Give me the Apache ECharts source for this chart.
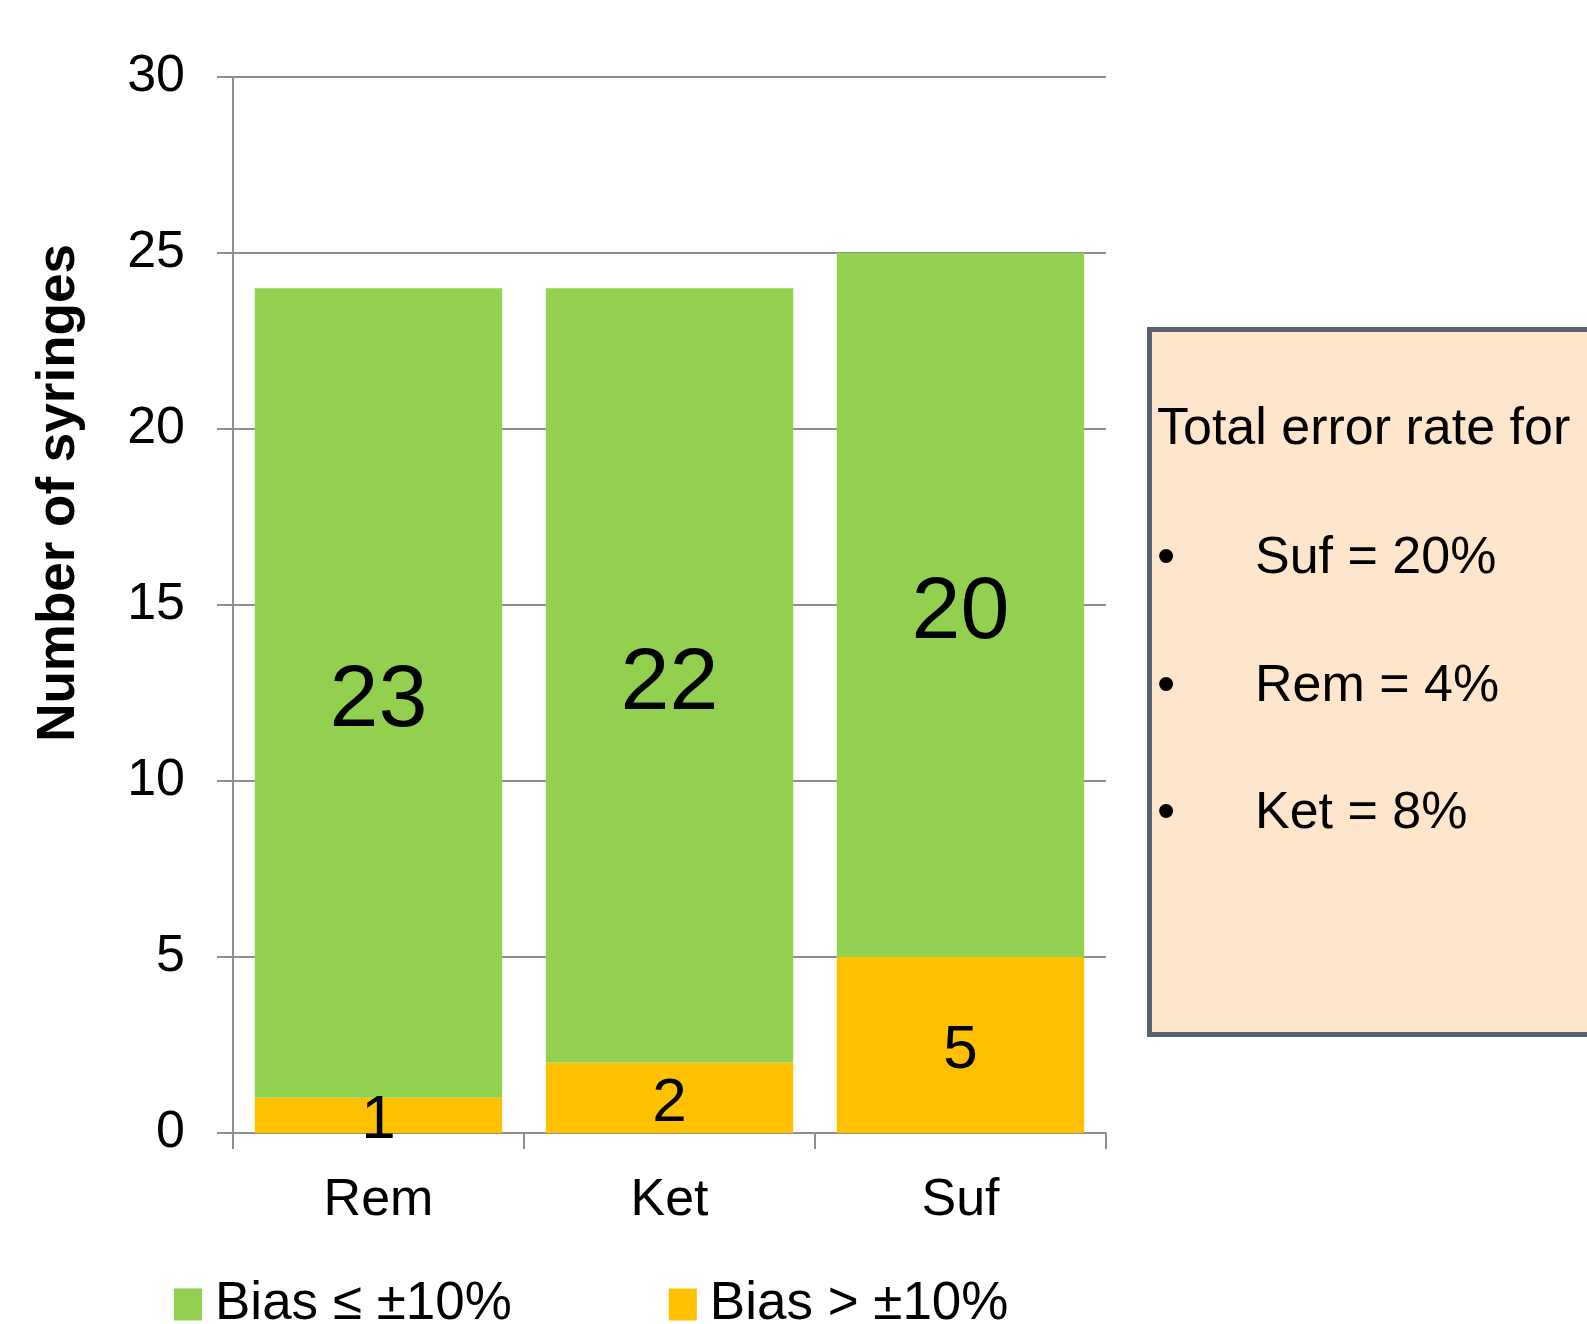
<!DOCTYPE html>
<html>
<head>
<meta charset="utf-8">
<script src="https://cdn.jsdelivr.net/npm/echarts@6/dist/echarts.min.js"></script>
<style>
  html, body { margin: 0; padding: 0; background: #fff; }
  #chart { width: 1587px; height: 1324px; }
</style>
</head>
<body>
<div id="chart"></div>
<script>
const categories = ["Rem", "Ket", "Suf"];
const withinBias = [23, 22, 20];   // Bias ≤ ±10%
const outsideBias = [1, 2, 5];     // Bias > ±10%
const yTicks = [0, 5, 10, 15, 20, 25, 30];
const boxTitle = "Total error rate for";
const boxLines = ["Suf = 20%", "Rem = 4%", "Ket = 8%"];

const FONT = "'Liberation Sans', Arial, sans-serif";
const GREEN = "#92D050";
const ORANGE = "#FFC000";
const GRID = "#8E8E8E";

const chart = echarts.init(document.getElementById("chart"));

// text box on the right: title, then bullets + lines
const boxText = [
  { type: "text", x: 1157, y: 430, style: { text: boxTitle, font: `52px ${FONT}`, fill: "#000", verticalAlign: "middle" } }
];
boxLines.forEach((t, i) => {
  const y = 559 + i * 127.5;
  boxText.push({ type: "text", x: 1157, y: y, style: { text: "•", font: `52px ${FONT}`, fill: "#000", verticalAlign: "middle" } });
  boxText.push({ type: "text", x: 1255, y: y, style: { text: t, font: `52px ${FONT}`, fill: "#000", verticalAlign: "middle" } });
});

const option = {
  animation: false,
  backgroundColor: "#fff",
  grid: { left: 233, right: 481, top: 77, bottom: 191, containLabel: false },
  legend: {
    data: ["Bias ≤ ±10%", "Bias > ±10%"],
    left: 174,
    top: 1278,
    padding: 0,
    itemWidth: 28,
    itemHeight: 32,
    itemGap: 157,
    icon: "rect",
    textStyle: { fontFamily: FONT, fontSize: 53, color: "#000", padding: [0, 0, 0, 8] }
  },
  xAxis: {
    type: "category",
    data: categories,
    axisLine: { lineStyle: { color: GRID, width: 2 } },
    axisTick: { show: true, length: 16, lineStyle: { color: GRID, width: 2 } },
    axisLabel: { fontFamily: FONT, fontSize: 52, color: "#000", margin: 42 }
  },
  yAxis: {
    type: "value",
    min: yTicks[0],
    max: yTicks[yTicks.length - 1],
    interval: 5,
    axisLine: { show: true, lineStyle: { color: GRID, width: 2 } },
    axisTick: { show: true, length: 16, lineStyle: { color: GRID, width: 2 } },
    splitLine: { show: true, lineStyle: { color: GRID, width: 2 } },
    axisLabel: { fontFamily: FONT, fontSize: 52, color: "#000", margin: 48 }
  },
  series: [
    {
      name: "Bias > ±10%",
      type: "bar",
      stack: "total",
      data: outsideBias,
      barCategoryGap: "15%",
      itemStyle: { color: ORANGE },
      label: { show: true, position: "inside", offset: [0, 6], fontFamily: FONT, fontSize: 62, color: "#000" }
    },
    {
      name: "Bias ≤ ±10%",
      type: "bar",
      stack: "total",
      data: withinBias,
      barCategoryGap: "15%",
      itemStyle: { color: GREEN },
      label: { show: true, position: "inside", offset: [0, 9], fontFamily: FONT, fontSize: 88, color: "#000" }
    }
  ],
  graphic: [
    {
      type: "text",
      x: 59, y: 493,
      rotation: Math.PI / 2,
      style: { text: "Number of syringes", font: `bold 53px ${FONT}`, fill: "#000", align: "center", verticalAlign: "middle" }
    },
    {
      type: "rect",
      left: 1147, top: 327,
      shape: { width: 500, height: 705 },
      style: { fill: "#FEE6CC", stroke: "#5A6170", lineWidth: 5 }
    },
    ...boxText
  ]
};

chart.setOption(option);
</script>
</body>
</html>
